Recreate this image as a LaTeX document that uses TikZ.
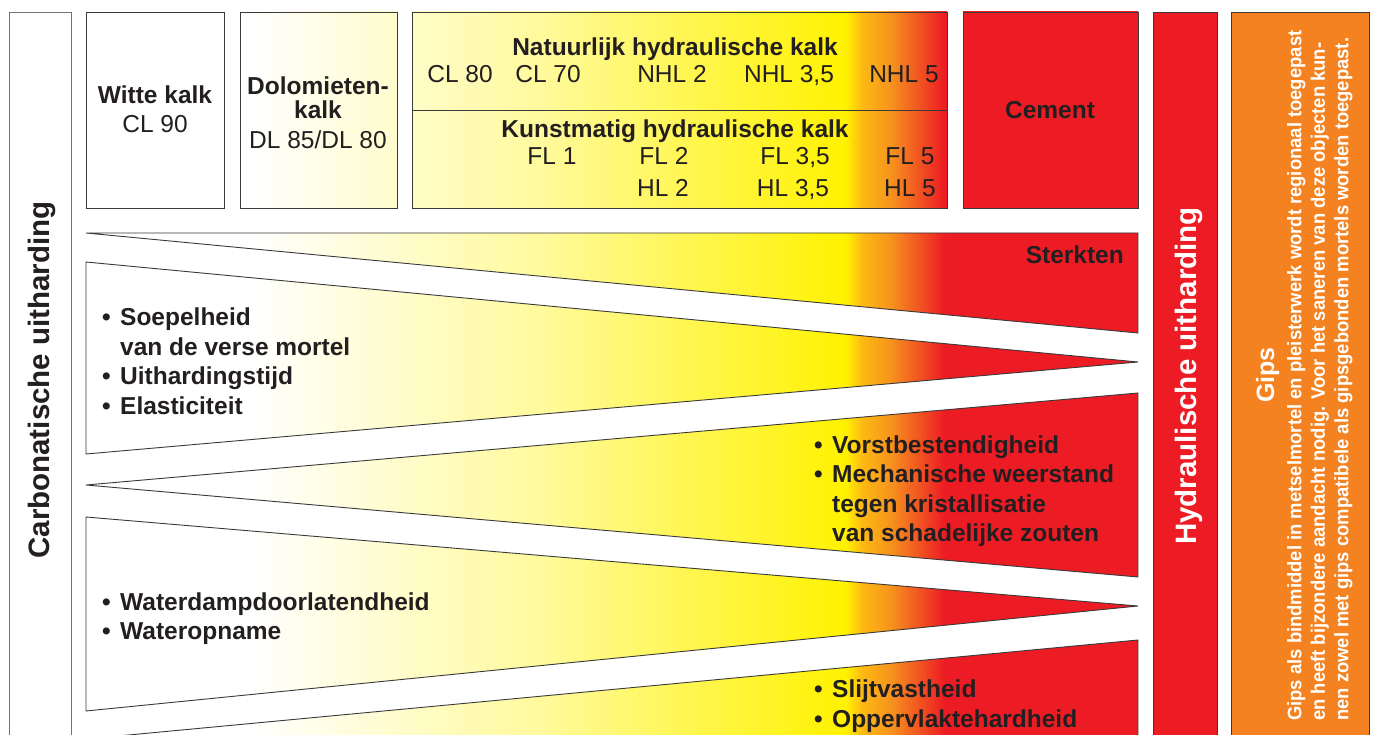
\documentclass[tikz,border=0pt]{standalone}
\usepackage{fontspec}
\setmainfont{Liberation Sans}
\newfontfamily\smal[FakeStretch=0.945]{Liberation Sans}
\usepackage{xcolor}
\usepackage{tikz}

\definecolor{rood}{HTML}{ED1C24}
\definecolor{geel}{HTML}{FFF200}
\definecolor{goud}{HTML}{FDB913}
\definecolor{oranje}{HTML}{F7941D}
\definecolor{gips}{HTML}{F58220}
\definecolor{inkt}{HTML}{231F20}
\definecolor{lijn}{HTML}{3A3A3A}

% kleurverloop van wit (kalk) naar rood (cement), x = 86 ... 1138
\pgfdeclarehorizontalshading{kalk}{100bp}{color(0bp)=(white); color(32.8bp)=(white); color(47bp)=(geel!40); color(61.1bp)=(geel); color(61.9bp)=(goud); color(63.2bp)=(oranje); color(65.8bp)=(rood); color(100bp)=(rood)}

\newcommand{\punt}{\makebox[18pt][l]{\textbullet}}
\newcommand{\inspring}{\hspace*{18pt}}

\tikzset{
  vlak/.style={draw=lijn, line width=0.9pt, path picture={\shade[shading=kalk] (86,0) rectangle (1138,860);}},
  strook/.style={draw=lijn, line width=0.9pt},
  kop/.style={font=\bfseries\fontsize{24.5}{29.5}\selectfont, text=inkt, anchor=base, inner sep=0pt},
  soort/.style={font=\fontsize{24.5}{29.5}\selectfont, text=inkt, anchor=base, inner sep=0pt},
  lijst/.style={font=\bfseries\fontsize{24.5}{29.5}\selectfont, text=inkt, align=left, anchor=north west, inner sep=0pt},
  staand/.style={rotate=90, anchor=base, inner sep=0pt, font=\bfseries\fontsize{29.5}{34}\selectfont},
}

\begin{document}
\begin{tikzpicture}[x=1pt,y=-1pt]
\clip (0,0) rectangle (1376,735);
\fill[white] (0,0) rectangle (1376,735);
%\draw (0,0) grid[step=100] (1376,735);

% stroken
\draw[strook, draw=black!55] (9,12) rectangle (71,760);
\node[staand, text=inkt] (carb) at (49.5,380) {Carbonatische uitharding};
\filldraw[strook, fill=rood] (1153,12) rectangle (1217,760);
\node[staand, text=white] (hydr) at (1196,376) {Hydraulische uitharding};
\filldraw[strook, fill=gips] (1231,12) rectangle (1369,760);
\node[staand, text=white, font=\bfseries\fontsize{25}{30}\selectfont] (gips) at (1274,375) {Gips};
\node[rotate=90, anchor=north west, inner sep=0pt, align=left, text=white, font=\smal\bfseries\fontsize{19.5}{23.5}\selectfont] (gipstekst) at (1287,721) {Gips als bindmiddel in metselmortel en pleisterwerk wordt regionaal toegepast\\en heeft bijzondere aandacht nodig. Voor het saneren van deze objecten kun-\\nen zowel met gips compatibele als gipsgebonden mortels worden toegepast.};

% bindmiddelen
\draw[vlak] (86,12) rectangle (224,208);
\node[kop] (witte) at (155,104) {Witte kalk};
\node[soort] (cl90) at (155,133) {CL 90};
\draw[vlak] (240,12) rectangle (397,208);
\node[kop] (dolo) at (318,95) {Dolomieten-};
\node[kop] (dolokalk) at (318,119) {kalk};
\node[soort] (dl) at (318,149) {DL 85/DL 80};
\draw[vlak] (412,12) rectangle (947,208);
\draw[strook] (412,110) -- (947,110);
\node[kop] (nat) at (675,56) {Natuurlijk hydraulische kalk};
\node[soort] (cl80) at (460,83) {CL 80};
\node[soort] (cl70) at (548,83) {CL 70};
\node[soort] (nhl2) at (672,83) {NHL 2};
\node[soort] (nhl35) at (789,83) {NHL 3,5};
\node[soort] (nhl5) at (904,83) {NHL 5};
\node[kop] (kunst) at (675,138) {Kunstmatig hydraulische kalk};
\node[soort] (fl1) at (552,165) {FL 1};
\node[soort] (fl2) at (664,165) {FL 2};
\node[soort] (fl35) at (795,165) {FL 3,5};
\node[soort] (fl5) at (910,165) {FL 5};
\node[soort] (hl2) at (663,197) {HL 2};
\node[soort] (hl35) at (793,197) {HL 3,5};
\node[soort] (hl5) at (910,197) {HL 5};
\draw[vlak] (963,12) rectangle (1138,208);
\node[kop] (cement) at (1050,119) {Cement};

% eigenschappen
\draw[vlak] (86,233) -- (1138,233) -- (1138,333) -- cycle;
\node[kop, anchor=base east] (sterk) at (1124,264) {Sterkten};
\draw[vlak] (86,262) -- (1138,362) -- (86,454) -- cycle;
\node[lijst] (soepel) at (102,308) {\punt Soepelheid\\\inspring van de verse mortel\\\punt Uithardingstijd\\\punt Elasticiteit};
\draw[vlak] (86,485) -- (1138,393) -- (1138,577) -- cycle;
\node[lijst] (vorst) at (814,435.5) {\punt Vorstbestendigheid\\\punt Mechanische weerstand\\\inspring tegen kristallisatie\\\inspring van schadelijke zouten};
\draw[vlak] (86,517) -- (1138,606) -- (86,711) -- cycle;
\node[lijst] (water) at (102,592.5) {\punt Waterdampdoorlatendheid\\\punt Wateropname};
\draw[vlak] (86,739) -- (1138,640) -- (1138,840) -- cycle;
\node[lijst] (slijt) at (814,680) {\punt Slijtvastheid\\\punt Oppervlaktehardheid};
\end{tikzpicture}
\end{document}
